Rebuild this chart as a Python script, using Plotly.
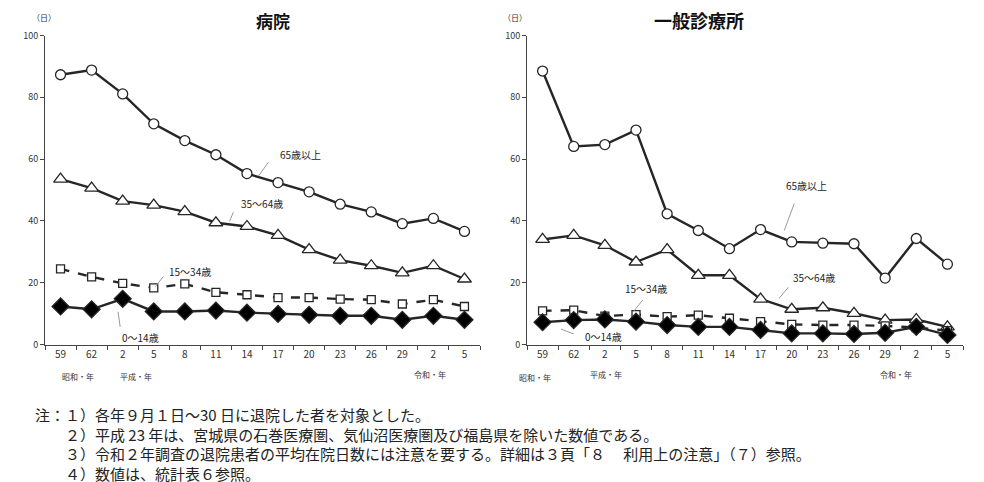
import plotly.graph_objects as go

# ---- data ----
categories = ["59", "62", "2", "5", "8", "11", "14", "17", "20", "23", "26", "29", "2", "5"]

hosp_65 = [87.3, 88.8, 81.1, 71.4, 66.0, 61.4, 55.3, 52.4, 49.4, 45.4, 42.9, 39.1, 40.8, 36.6]
hosp_35 = [53.5, 50.6, 46.4, 45.1, 43.0, 39.4, 38.2, 35.3, 30.7, 27.3, 25.5, 23.2, 25.5, 21.2]
hosp_15 = [24.5, 21.9, 19.8, 18.3, 19.6, 16.9, 16.1, 15.2, 15.2, 14.7, 14.5, 13.1, 14.5, 12.3]
hosp_0 = [12.3, 11.4, 14.8, 10.7, 10.7, 11.0, 10.3, 9.9, 9.6, 9.3, 9.3, 8.0, 9.3, 8.0]

clin_65 = [88.5, 64.1, 64.7, 69.4, 42.3, 36.9, 31.0, 37.2, 33.2, 32.8, 32.6, 21.5, 34.3, 26.0]
clin_35 = [34.0, 35.3, 32.1, 26.7, 30.7, 22.4, 22.4, 14.7, 11.4, 11.9, 10.1, 7.9, 8.1, 5.7]
clin_15 = [10.9, 11.1, 9.2, 9.7, 9.0, 9.5, 8.5, 7.4, 6.5, 6.3, 6.3, 6.0, 5.5, 4.5]
clin_0 = [7.2, 7.9, 8.1, 7.4, 6.3, 5.7, 5.7, 4.7, 3.6, 3.6, 3.4, 3.8, 5.7, 3.1]

series_names = ["65歳以上", "35～64歳", "15～34歳", "0～14歳"]
panel_titles = ["病院", "一般診療所"]
notes = [
    "注：１）各年９月１日～30 日に退院した者を対象とした。",
    "　　２）平成 23 年は、宮城県の石巻医療圏、気仙沼医療圏及び福島県を除いた数値である。",
    "　　３）令和２年調査の退院患者の平均在院日数には注意を要する。詳細は３頁「８　 利用上の注意」（７）参照。",
    "　　４）数値は、統計表６参照。",
]

W, H = 984, 482
OFF = 8  # page body offset in the rendered screenshot
xs = list(range(len(categories)))
LINE = "#262626"
FONT = "Noto Sans CJK JP"


def px(x):
    return (x - OFF) / W


def py(y):
    return 1 - (y - OFF) / H


styles = [
    dict(symbol="circle", size=10, fill="white", dash="solid"),
    dict(symbol="triangle-up", size=12, fill="white", dash="solid"),
    dict(symbol="square", size=8, fill="white", dash="dash"),
    dict(symbol="diamond", size=13, fill="black", dash="solid"),
]

fig = go.Figure()
panels = [(hosp_65, hosp_35, hosp_15, hosp_0), (clin_65, clin_35, clin_15, clin_0)]
for p, data in enumerate(panels):
    xa = "x" if p == 0 else "x2"
    ya = "y" if p == 0 else "y2"
    for i, vals in enumerate(data):
        st = styles[i]
        fig.add_trace(go.Scatter(
            x=xs, y=vals, mode="lines+markers", name=series_names[i],
            xaxis=xa, yaxis=ya, showlegend=False,
            line=dict(color=LINE, width=2.4, dash=st["dash"]),
            marker=dict(symbol=st["symbol"], size=st["size"], color=st["fill"],
                        line=dict(color=LINE, width=1.3)),
        ))

ydom = [py(344.5), py(35.5)]
xdoms = [[px(45), px(480)], [px(527), px(963)]]

axis_common = dict(
    range=[-0.5, len(categories) - 0.5], tickvals=xs, ticktext=categories,
    ticks="", showline=True, linecolor="#444", linewidth=1, showgrid=False,
    zeroline=False, tickfont=dict(family=FONT, size=10, color="#333"),
    minor=dict(tickvals=[i - 0.5 for i in range(len(categories) + 1)],
               ticks="outside", ticklen=4, tickcolor="#444", showgrid=False),
    fixedrange=True, automargin=False,
)
yaxis_common = dict(
    range=[0, 100], dtick=20, ticks="outside", ticklen=4, tickcolor="#444",
    showline=True, linecolor="#444", linewidth=1, showgrid=False, zeroline=False,
    tickfont=dict(family=FONT, size=9, color="#333"), fixedrange=True, automargin=False,
)

fig.update_layout(
    width=W, height=H, margin=dict(l=0, r=0, t=0, b=0, pad=0, autoexpand=False),
    autosize=False, showlegend=False,
    paper_bgcolor="white", plot_bgcolor="white",
    xaxis=dict(domain=xdoms[0], anchor="y", **axis_common),
    yaxis=dict(domain=ydom, anchor="x", **yaxis_common),
    xaxis2=dict(domain=xdoms[1], anchor="y2", **axis_common),
    yaxis2=dict(domain=ydom, anchor="x2", **yaxis_common),
    font=dict(family=FONT),
)

ann = []
# titles
ann.append(dict(text=f"<b>{panel_titles[0]}</b>", x=px(254), y=py(20), xref="paper", yref="paper",
                yanchor="middle", showarrow=False, font=dict(size=17, color="#111")))
ann.append(dict(text=f"<b>{panel_titles[1]}</b>", x=px(746), y=py(20), xref="paper", yref="paper",
                yanchor="middle", showarrow=False, font=dict(size=18, color="#111")))
for xp in (30, 515):
    ann.append(dict(text="（日）", x=px(xp), y=py(17), xref="paper", yref="paper",
                    yanchor="middle", showarrow=False, font=dict(size=8, color="#333")))
# era labels
for txt, xp, yp in [("昭和・年", 60, 376), ("平成・年", 118, 376), ("令和・年", 430, 374),
                    ("昭和・年", 535, 377), ("平成・年", 606, 374), ("令和・年", 914, 374)]:
    ann.append(dict(text=txt, x=px(xp), y=py(yp), xref="paper", yref="paper",
                    yanchor="middle", showarrow=False, font=dict(size=8, color="#333")))

# series labels (data coords) and leader lines
labels = [
    ("x", "y", [(7.73, 61.6, (6.69, 59.0), (6.37, 54.5)),
                (6.47, 45.7, (5.56, 42.8), (5.44, 39.8)),
                (4.18, 23.6, (3.31, 22.0), (3.05, 18.7)),
                (2.56, 2.4, (1.85, 10.6), (1.92, 5.7))]),
    ("x2", "y2", [(8.47, 51.5, (8.08, 45.6), (7.76, 36.9)),
                  (8.72, 21.8, (7.89, 18.5), (7.60, 15.0)),
                  (3.32, 18.2, (3.22, 14.4), (2.90, 10.5)),
                  (1.97, 2.7, (0.59, 5.0), (1.0, 3.4))]),
]
shapes = []
for xr, yr, items in labels:
    for i, (lx, ly, p0, p1) in enumerate(items):
        ann.append(dict(text=series_names[i], x=lx, y=ly, xref=xr, yref=yr, showarrow=False,
                        font=dict(size=10, color="#222")))
        shapes.append(dict(type="line", xref=xr, yref=yr, x0=p0[0], y0=p0[1], x1=p1[0], y1=p1[1],
                           line=dict(color="#999", width=1)))

# notes (one block, line spacing set by the font size)
ann.append(dict(text="<br>".join(notes), x=px(33), y=py(444), xref="paper", yref="paper",
                xanchor="left", yanchor="middle", align="left", showarrow=False,
                font=dict(size=15, color="#222")))

fig.update_layout(annotations=ann, shapes=shapes)
fig.write_html("out.html")
